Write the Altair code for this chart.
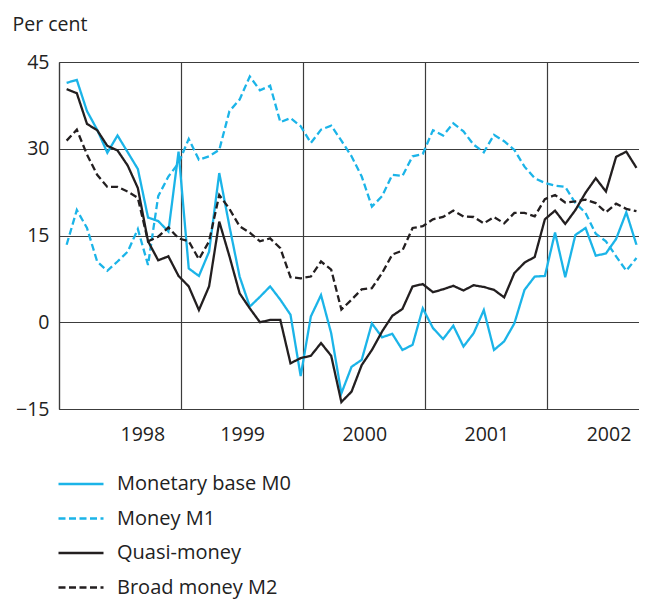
import altair as alt
import pandas as pd

series_names = ["Monetary base M0", "Money M1", "Quasi-money", "Broad money M2"]
series_colors = ["#1BB4E8", "#1BB4E8", "#231F20", "#231F20"]
series_dash = [[1, 0], [7, 3.5], [1, 0], [7, 3.5]]

# Monthly observations, Jan 1998 - Sep 2002 (57 months)
start_year = 1998
month_offset = 0.75  # points are drawn late in each month

m0 = [41.4, 41.9, 36.5, 33.3, 29.3, 32.3, 29.4, 26.5, 18.1, 17.5, 15.7, 29.5,
      9.3, 8.0, 12.2, 25.8, 16.6, 7.9, 2.7, 4.4, 6.2, 3.9, 1.3, -9.3,
      1.0, 4.7, -1.9, -12.3, -7.7, -6.5, -0.2, -2.6, -2.0, -4.8, -3.9, 2.4,
      -1.0, -2.9, -0.6, -4.2, -1.9, 2.1, -4.8, -3.3, -0.2, 5.6, 7.9, 8.0,
      15.5, 7.8, 15.1, 16.3, 11.5, 11.9, 14.4, 19.0, 13.4]
m1 = [13.4, 19.4, 16.3, 10.5, 8.9, 10.5, 12.2, 16.1, 9.9, 21.8, 25.2, 27.5,
      31.7, 28.1, 28.7, 29.8, 36.5, 38.5, 42.5, 40.1, 40.9, 34.6, 35.3, 33.9,
      31.0, 33.3, 34.0, 31.4, 28.7, 25.2, 20.0, 21.8, 25.5, 25.3, 28.7, 29.1,
      33.2, 32.3, 34.4, 33.0, 30.7, 29.4, 32.4, 31.3, 29.8, 26.9, 24.9, 24.1,
      23.6, 23.4, 20.6, 18.9, 15.3, 14.0, 11.4, 8.9, 11.1]
quasi = [40.3, 39.6, 34.3, 33.2, 30.5, 29.7, 27.1, 23.2, 14.0, 10.7, 11.4, 8.0,
         6.2, 2.1, 6.2, 17.4, 11.4, 5.0, 2.4, 0.0, 0.4, 0.4, -7.1, -6.2,
         -5.8, -3.6, -5.8, -13.8, -12.0, -7.4, -4.8, -1.6, 1.1, 2.3, 6.2, 6.6,
         5.2, 5.7, 6.3, 5.5, 6.4, 6.1, 5.6, 4.3, 8.5, 10.3, 11.3, 17.8,
         19.3, 17.0, 19.4, 22.4, 24.9, 22.6, 28.6, 29.5, 26.7]
m2 = [31.4, 33.3, 29.0, 25.5, 23.4, 23.4, 22.6, 21.5, 14.0, 14.8, 16.4, 14.5,
      14.0, 10.9, 14.0, 22.0, 19.6, 16.6, 15.5, 14.0, 14.5, 12.8, 7.8, 7.6,
      7.9, 10.5, 9.1, 2.2, 3.9, 5.7, 5.9, 8.5, 11.7, 12.4, 16.3, 16.6,
      17.8, 18.2, 19.3, 18.3, 18.2, 17.1, 18.2, 17.1, 18.9, 18.9, 18.3, 21.3,
      22.0, 20.7, 20.9, 21.2, 20.6, 19.0, 20.5, 19.6, 19.2]

year_ticks = [1998, 1999, 2000, 2001, 2002]
y_ticks = [-15, 0, 15, 30, 45]

rows = []
for name, vals in zip(series_names, [m0, m1, quasi, m2]):
    for i, v in enumerate(vals):
        rows.append({"t": start_year + (i + month_offset) / 12, "value": v, "series": name})
df = pd.DataFrame(rows)

FONT = "Open Sans"
GRID = "#3c3c3c"
TXT = "#222222"
W = 580

chart = alt.Chart(df).mark_line(strokeWidth=2.3, strokeJoin="miter").encode(
    x=alt.X("t:Q",
            scale=alt.Scale(domain=[1998, 2002.75], nice=False, zero=False),
            axis=alt.Axis(values=year_ticks, format="d", title=None, ticks=False,
                          labelOffset=W / 4.75 / 2, labelPadding=16, labelFontSize=19.5,
                          labelColor=TXT, labelFont=FONT,
                          grid=True, gridColor=GRID, gridWidth=1.2,
                          domainColor=GRID, domainWidth=1.2)),
    y=alt.Y("value:Q",
            scale=alt.Scale(domain=[-15, 45], nice=False, zero=False),
            axis=alt.Axis(values=y_ticks, format="d", ticks=False,
                          labelPadding=10, labelFontSize=19.5, labelColor=TXT,
                          labelFont=FONT,
                          grid=True, gridColor=GRID, gridWidth=1.2,
                          domainColor=GRID, domainWidth=1.2,
                          title="Per cent", titleAngle=0, titleAlign="left",
                          titleBaseline="alphabetic", titleX=-47, titleY=-31.5,
                          titleFontSize=19.5, titleFontWeight="normal",
                          titleFont=FONT, titleColor=TXT)),
    color=alt.Color("series:N",
                    scale=alt.Scale(domain=series_names, range=series_colors),
                    legend=alt.Legend(orient="none", legendX=-2, legendY=398,
                                      title=None, symbolType="stroke",
                                      symbolSize=2025, symbolStrokeWidth=2.3,
                                      labelFontSize=20, labelFont=FONT,
                                      labelColor=TXT, labelOffset=12,
                                      rowPadding=0.5, labelLimit=400)),
    strokeDash=alt.StrokeDash("series:N",
                              scale=alt.Scale(domain=series_names, range=series_dash),
                              legend=None),
).properties(
    width=W, height=347,
    autosize=alt.AutoSizeParams(type="none"),
    padding={"left": 51, "top": 54, "right": 0, "bottom": 192},
).configure_view(stroke=None).configure(background="white")

chart.save("out.html", embed_options={"renderer": "svg", "actions": False})
